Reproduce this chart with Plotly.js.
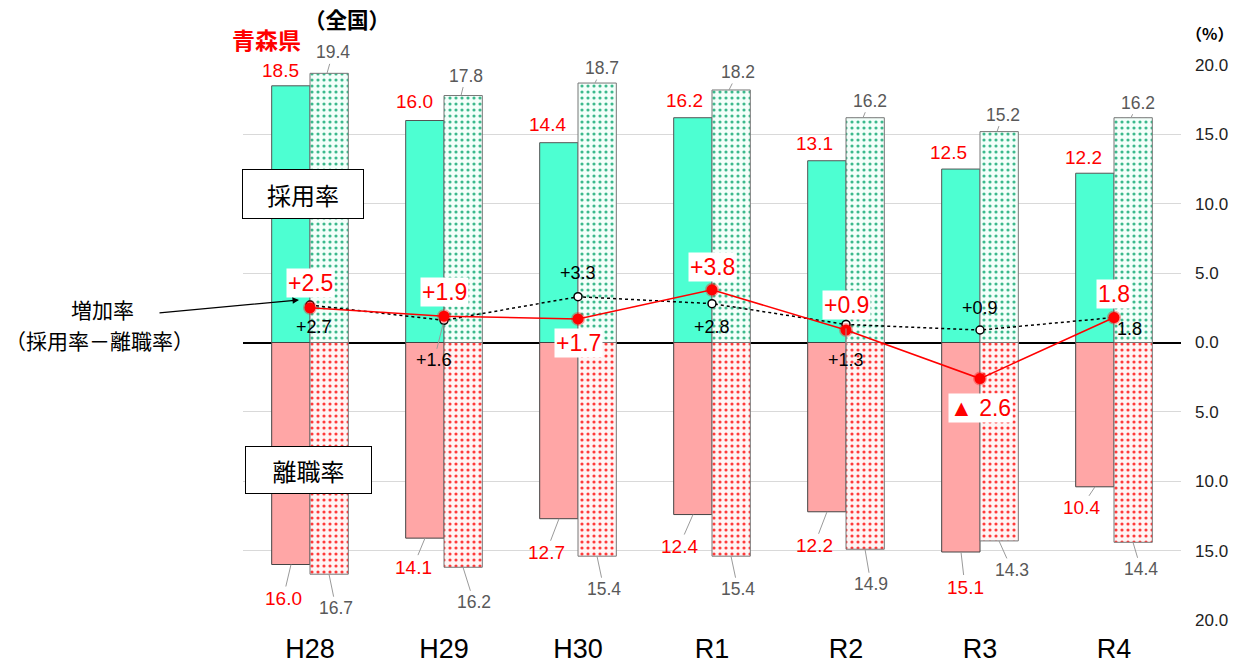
<!DOCTYPE html>
<html>
<head>
<meta charset="utf-8">
<script src="https://cdn.plot.ly/plotly-3.0.1.min.js"></script>
<style>html,body{margin:0;padding:0;background:#fff}#chart{width:1234px;height:663px}</style>
</head>
<body>
<div id="chart"></div>
<script>
// ---- data ----
const categories = ['H28','H29','H30','R1','R2','R3','R4'];
const aomoriHire = [18.5, 16.0, 14.4, 16.2, 13.1, 12.5, 12.2];
const nationalHire = [19.4, 17.8, 18.7, 18.2, 16.2, 15.2, 16.2];
const aomoriSep = [16.0, 14.1, 12.7, 12.4, 12.2, 15.1, 10.4];
const nationalSep = [16.7, 16.2, 15.4, 15.4, 14.9, 14.3, 14.4];
const aomoriInc = [2.5, 1.9, 1.7, 3.8, 0.9, -2.6, 1.8];
const nationalInc = [2.7, 1.6, 3.3, 2.8, 1.3, 0.9, 1.8];
const aomoriIncLabels = ['+2.5','+1.9','+1.7','+3.8','+0.9','▲ 2.6','1.8'];
const nationalIncLabels = ['+2.7','+1.6','+3.3','+2.8','+1.3','+0.9','1.8'];
const yTickVals = [-20,-15,-10,-5,0,5,10,15,20];

// ---- layout helpers (pixel geometry) ----
const L = 243, R = 1181, T = 65, B = 620;
const catPx = (R - L) / categories.length;
const px = x => (x - L) / (R - L);
const py = y => (B - y) / (B - T);
const barW = 0.286;
const JP = '"Noto Sans CJK JP", "Liberation Sans", Arial, sans-serif';
const LAT = '"Liberation Sans", Arial, sans-serif';

const traces = [
  {type:'bar', x:categories, y:aomoriHire, width:barW, offset:-barW,
   marker:{color:'#4dffd2', line:{color:'#555', width:1}}, hoverinfo:'y'},
  {type:'bar', x:categories, y:nationalHire, width:barW, offset:0,
   marker:{color:'#ffffff', line:{color:'#777', width:1},
     pattern:{shape:'.', fgcolor:'#3bb98c', bgcolor:'#f3fffa', size:6, solidity:0.22}}, hoverinfo:'y'},
  {type:'bar', x:categories, y:aomoriSep.map(v=>-v), width:barW, offset:-barW,
   marker:{color:'#ffa6a6', line:{color:'#444', width:1}}, hoverinfo:'y'},
  {type:'bar', x:categories, y:nationalSep.map(v=>-v), width:barW, offset:0,
   marker:{color:'#ffffff', line:{color:'#777', width:1},
     pattern:{shape:'.', fgcolor:'#ff3a3a', bgcolor:'#fff4f4', size:6, solidity:0.22}}, hoverinfo:'y'},
  {type:'scatter', mode:'lines+markers', x:categories, y:nationalInc,
   line:{color:'#000', width:1.5, dash:'dot'},
   marker:{color:'#fff', size:8, line:{color:'#000', width:1.5}}},
  {type:'scatter', mode:'lines+markers', x:categories, y:aomoriInc,
   line:{color:'#ff0000', width:1.5},
   marker:{color:'#ff0000', size:11, line:{color:'rgba(255,0,0,0.35)', width:3}}}
];

const ann = [];
function bl(i, tipPx, y, text, dx, dy, color, arrow, size){
  ann.push({x: i + tipPx/catPx, y: y, xref:'x', yref:'y', text: text,
    showarrow: true, arrowhead: 0, arrowwidth: 1, arrowcolor: arrow ? '#9a9a9a' : 'rgba(0,0,0,0)',
    ax: dx, ay: dy, standoff: 0, font:{family:LAT, size:size, color:color}});
}
// offsets (pixels, text center relative to arrow tip)
const ahOff = [[-12,-15],[-12,-19],[-13,-18],[-10,-17],[-14,-17],[-14,-17],[-13,-16]];
const nhOff = [[6,-21],[5,-20],[7,-15],[9,-18],[7,-17],[6,-17],[7,-15]];
const asOff = [[-8,34],[-12,29],[-13,34],[-14,32],[-13,34],[4,35],[-14,21]];
const nsOff = [[7,34],[11,35],[7,33],[7,33],[6,35],[13,29],[8,27]];
categories.forEach((c,i)=>{
  bl(i, -18, aomoriHire[i], aomoriHire[i].toFixed(1), ahOff[i][0], ahOff[i][1], '#ff0000', false, 19);
  bl(i, 17, nationalHire[i], nationalHire[i].toFixed(1), nhOff[i][0], nhOff[i][1], '#595959', true, 17.5);
  bl(i, -19, -aomoriSep[i], aomoriSep[i].toFixed(1), asOff[i][0], asOff[i][1], '#ff0000', true, 19);
  bl(i, 19, -nationalSep[i], nationalSep[i].toFixed(1), nsOff[i][0], nsOff[i][1], '#595959', true, 17.5);
});
// increase labels
const aiOff = [[0,-25],[0,-24],[0,24],[0,-23],[0,-25],[0,29],[0,-24]];
const niOff = [[4,22],[-10,40],[0,-24],[0,23],[0,36],[0,-22],[15,11]];
const niArrow = [false,true,false,false,true,false,false];
categories.forEach((c,i)=>{
  ann.push({x:i, y:nationalInc[i], xref:'x', yref:'y', text:nationalIncLabels[i],
    showarrow:true, arrowhead:0, arrowwidth:1, arrowcolor: niArrow[i] ? '#9a9a9a' : 'rgba(0,0,0,0)',
    ax:niOff[i][0], ay:niOff[i][1], standoff:4, font:{family:LAT, size:18, color:'#000'}});
});
categories.forEach((c,i)=>{
  ann.push({x:i, y:aomoriInc[i], xref:'x', yref:'y', text:aomoriIncLabels[i],
    showarrow:true, arrowhead:0, arrowcolor:'rgba(0,0,0,0)',
    ax:aiOff[i][0], ay:aiOff[i][1], bgcolor:'#ffffff', borderpad:1,
    font:{family:LAT, size:23, color:'#ff0000'}});
});
function txt(x, y, text, size, color, extra){
  ann.push(Object.assign({x:px(x), y:py(y), xref:'paper', yref:'paper', text:text,
    showarrow:false, xanchor:'center', yanchor:'middle',
    font:{family:JP, size:size, color:color}}, extra||{}));
}
txt(266, 39, '<b>青森県</b>', 23, '#ff0000');
txt(347, 19, '<b>（全国）</b>', 21.5, '#000');
txt(1209, 33, '<b>（%）</b>', 16, '#000');
txt(102, 309, '増加率', 21, '#000', {borderpad:0});
txt(99, 340, '（採用率－離職率）', 21, '#000', {borderpad:0});
txt(303, 194, '採用率', 24, '#000', {bgcolor:'#fff', bordercolor:'#000', borderwidth:1, width:114, height:42, borderpad:3});
txt(308, 470, '離職率', 24, '#000', {bgcolor:'#fff', bordercolor:'#000', borderwidth:1, width:119, height:40, borderpad:3});
// pointer arrow
ann.push({x:px(299), y:py(300), xref:'paper', yref:'paper', text:'', showarrow:true,
  ax:-141, ay:13, arrowhead:2, arrowsize:1, arrowwidth:1.3, arrowcolor:'#000', standoff:0});

const layout = {
  width:1234, height:663,
  margin:{l:L, r:1234-R, t:T, b:663-B, pad:0},
  paper_bgcolor:'#fff', plot_bgcolor:'#fff',
  showlegend:false, barmode:'overlay',
  font:{family:LAT, color:'#000'},
  xaxis:{type:'category', range:[-0.5, 6.5], showgrid:false, zeroline:false, showline:false,
    ticks:'', tickfont:{family:LAT, size:27, color:'#000'}, ticklabelstandoff:10, fixedrange:true},
  yaxis:{side:'right', range:[-20,20], tickvals:yTickVals,
    ticktext:yTickVals.map(v=>Math.abs(v).toFixed(1)),
    showgrid:true, gridcolor:'#d9d9d9', gridwidth:1,
    zeroline:true, zerolinecolor:'#000', zerolinewidth:2,
    showline:false, ticks:'', ticklabelstandoff:13,
    tickfont:{family:LAT, size:17, color:'#222'}, fixedrange:true},
  annotations:ann
};
Plotly.newPlot('chart', traces, layout, {displayModeBar:false, staticPlot:true});
</script>
</body>
</html>
